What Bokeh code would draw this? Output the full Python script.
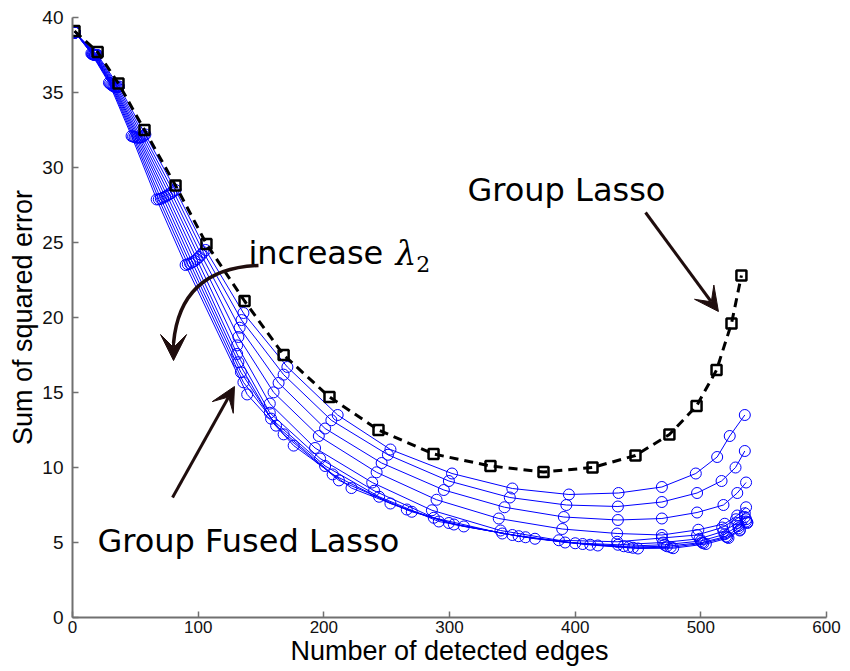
import math
from bokeh.plotting import figure
from bokeh.models import Range1d, Label, Arrow, VeeHead, FixedTicker
from bokeh.embed import file_html
from bokeh.resources import INLINE

# ---------------- data ----------------
x_ticks = [0, 100, 200, 300, 400, 500, 600]
y_ticks = [0, 5, 10, 15, 20, 25, 30, 35, 40]

# Group Lasso path
gl_x = [1.6, 20, 36.6, 57.3, 82, 106.6, 136.9, 168, 204.5, 243.5, 287.3, 332.6,
        374.8, 413.8, 448, 475, 496.6, 512.5, 524.4, 532.3]
gl_y = [39.1, 37.7, 35.6, 32.5, 28.8, 24.9, 21.1, 17.5, 14.7, 12.5, 10.9, 10.1,
        9.7, 10.0, 10.8, 12.2, 14.1, 16.5, 19.6, 22.8]

# Group Fused Lasso paths (increasing lambda2)
gfl1_x = [2, 20, 37, 58, 82, 106, 136, 171, 211, 253, 302, 350, 395, 434.5, 469, 496, 513, 523, 535]
gfl1_y = [39.0, 37.5, 35.4, 32.2, 28.5, 24.5, 20.3, 16.7, 13.5, 11.2, 9.6, 8.6, 8.2, 8.3, 8.7, 9.6, 10.7, 12.1, 13.5]
gfl2_x = [2, 19.4, 36.1, 56.8, 80.3, 104.2, 134.5, 168, 206, 251, 299.5, 348, 393, 434, 469, 497, 516.5, 527.6, 535]
gfl2_y = [39.0, 37.49, 35.37, 32.12, 28.4, 24.35, 19.83, 16.19, 13.15, 10.85, 9.1, 8.0, 7.5, 7.4, 7.7, 8.3, 9.1, 10.0, 11.1]
gfl3_x = [2, 18.9, 35.2, 55.6, 78.7, 102.4, 133, 164, 201, 246, 295.5, 343.8, 391, 434, 469, 497, 518, 529, 536]
gfl3_y = [39.0, 37.49, 35.36, 32.05, 28.3, 24.18, 19.32, 15.64, 12.6, 10.3, 8.5, 7.35, 6.7, 6.5, 6.6, 7.0, 7.5, 8.3, 9.0]
gfl4_x = [2, 18.3, 34.3, 54.3, 77, 100.7, 132, 160, 196, 242, 289.7, 339.2, 389.7, 433.4, 469, 498, 519, 529, 536]
gfl4_y = [39.0, 37.49, 35.36, 32.01, 28.22, 24.03, 18.7, 15.01, 12.1, 9.68, 7.85, 6.6, 5.9, 5.6, 5.5, 5.85, 6.25, 6.8, 7.35]
gfl5_x = [2, 17.8, 33.4, 53.1, 75.3, 98.9, 131, 157, 193, 238.5, 286, 340.6, 387, 433.4, 469, 497, 517, 528, 535]
gfl5_y = [39.0, 37.5, 35.38, 31.99, 28.13, 23.89, 18.14, 14.26, 11.3, 9.0, 7.15, 5.8, 5.15, 5.05, 5.3, 5.5, 6.0, 6.55, 6.95]
gfl6_x = [2, 17.2, 32.6, 51.9, 73.7, 97.1, 131, 157, 197, 240, 287.5, 342, 392, 434, 470, 499, 518, 529, 535]
gfl6_y = [39.0, 37.51, 35.42, 31.99, 28.06, 23.77, 17.57, 13.65, 10.6, 8.45, 6.65, 5.6, 5.0, 4.85, 5.0, 5.25, 5.75, 6.3, 6.7]
gfl7_x = [2, 16.7, 31.7, 50.7, 72, 95.3, 132, 158, 201, 244, 291.5, 350, 400, 438.7, 471, 500, 519, 530, 536]
gfl7_y = [39.0, 37.53, 35.47, 32.0, 27.99, 23.68, 17.02, 13.26, 10.1, 8.05, 6.4, 5.5, 4.95, 4.75, 4.85, 5.1, 5.55, 6.1, 6.55]
gfl8_x = [2, 16.1, 30.8, 49.4, 70.3, 93.6, 134, 162, 207, 253, 299.5, 355, 406, 442.7, 473, 501, 520, 530, 536]
gfl8_y = [39.0, 37.54, 35.52, 32.03, 27.92, 23.6, 16.35, 12.79, 9.54, 7.6, 6.3, 5.42, 4.9, 4.7, 4.75, 5.0, 5.4, 5.95, 6.4]
gfl9_x = [2, 15.6, 29.9, 48.2, 68.7, 91.8, 136, 168, 212, 266, 303.5, 360.5, 412, 446, 476, 502, 521, 531, 537]
gfl9_y = [39.0, 37.57, 35.6, 32.06, 27.88, 23.55, 15.68, 12.21, 9.14, 7.2, 6.2, 5.35, 4.85, 4.65, 4.68, 4.95, 5.35, 5.85, 6.35]
gfl10_x = [2, 15.0, 29.0, 47.0, 67.0, 90.0, 139, 176, 222, 270, 311.4, 368, 418, 450, 478, 504, 522, 531, 537]
gfl10_y = [39.0, 37.6, 35.65, 32.1, 27.87, 23.5, 14.87, 11.46, 8.63, 7.05, 6.07, 5.25, 4.8, 4.6, 4.62, 4.9, 5.3, 5.8, 6.3]

gfl_paths = [(gfl1_x, gfl1_y), (gfl2_x, gfl2_y), (gfl3_x, gfl3_y), (gfl4_x, gfl4_y),
             (gfl5_x, gfl5_y), (gfl6_x, gfl6_y), (gfl7_x, gfl7_y), (gfl8_x, gfl8_y),
             (gfl9_x, gfl9_y), (gfl10_x, gfl10_y)]

x_title = "Number of detected edges"
y_title = "Sum of squared error"

# ---------------- figure ----------------
p = figure(width=850, height=671, output_backend="svg", toolbar_location=None,
           x_range=Range1d(0, 600), y_range=Range1d(0, 40),
           min_border_left=72, min_border_right=24, min_border_top=17,
           min_border_bottom=54)
p.outline_line_color = None
p.xgrid.visible = False
p.ygrid.visible = False

for ax in (p.xaxis[0], p.yaxis[0]):
    ax.major_tick_in = 6
    ax.major_tick_out = 0
    ax.minor_tick_line_color = None
    ax.axis_line_color = "#707070"
    ax.axis_line_width = 2
    ax.major_tick_line_color = "#707070"
    ax.major_tick_line_width = 1.5
    ax.major_label_text_font = "Liberation Sans"
    ax.major_label_text_color = "#111111"
    ax.axis_label_text_font = "Liberation Sans"
    ax.axis_label_text_font_size = "27px"
    ax.axis_label_text_font_style = "normal"
    ax.axis_label_text_color = "black"
p.xaxis.major_label_text_font_size = "17px"
p.yaxis.major_label_text_font_size = "19px"
p.xaxis.ticker = FixedTicker(ticks=x_ticks)
p.yaxis.ticker = FixedTicker(ticks=y_ticks)
p.xaxis.major_label_standoff = 3
p.yaxis.major_label_standoff = 9
p.xaxis.axis_label = x_title
p.yaxis.axis_label = y_title
p.xaxis.axis_label_standoff = 0
p.yaxis.axis_label_standoff = 1

BLUE = "#0000ff"
for xs, ys in gfl_paths:
    p.line(xs, ys, line_color=BLUE, line_width=1)
    p.scatter(xs, ys, marker="circle", size=11, fill_alpha=0,
              line_color=BLUE, line_width=1)

p.line(gl_x, gl_y, line_color="black", line_width=3, line_dash="9 6")
p.scatter(gl_x, gl_y, marker="square", size=10, fill_alpha=0,
          line_color="black", line_width=2.5)

# ---------------- annotations ----------------
ARROW_C = "#1f0d0d"
TXT_FONT = "DejaVu Sans"

p.add_layout(Label(x=314.3, y=28.47, text="Group Lasso", text_font=TXT_FONT,
                   text_font_size="32px", text_color="black",
                   text_baseline="alphabetic"))
p.add_layout(Label(x=19.9, y=5.07, text="Group Fused Lasso", text_font=TXT_FONT,
                   text_font_size="32px", text_color="black",
                   text_baseline="alphabetic"))
p.add_layout(Label(x=140.0, y=24.27, text="increase", text_font=TXT_FONT,
                   text_font_size="32px", text_color="black",
                   text_baseline="alphabetic"))
p.add_layout(Label(x=257.0, y=24.27, text="λ", text_font="DejaVu Serif",
                   text_font_style="italic", text_font_size="33px",
                   text_color="black", text_baseline="alphabetic"))
p.add_layout(Label(x=273.5, y=23.6, text="2", text_font="DejaVu Serif",
                   text_font_size="22px", text_color="black",
                   text_baseline="alphabetic"))

p.add_layout(Arrow(x_start=456.0, y_start=27.0, x_end=514.0, y_end=20.4,
                   line_color=ARROW_C, line_width=3,
                   end=VeeHead(size=24, fill_color=ARROW_C, line_color=ARROW_C)))
p.add_layout(Arrow(x_start=79.6, y_start=8.0, x_end=128.9, y_end=15.4,
                   line_color=ARROW_C, line_width=3,
                   end=VeeHead(size=24, fill_color=ARROW_C, line_color=ARROW_C)))
p.quadratic(x0=148.0, y0=23.47, x1=80.4, y1=18.3, cx=85.9, cy=23.27,
            line_color=ARROW_C, line_width=3.5)
p.add_layout(Arrow(x_start=80.4, y_start=18.4, x_end=80.4, y_end=17.13,
                   line_color=ARROW_C, line_width=3,
                   end=VeeHead(size=26, fill_color=ARROW_C, line_color=ARROW_C)))

open("out.html", "w").write(file_html(p, INLINE))
